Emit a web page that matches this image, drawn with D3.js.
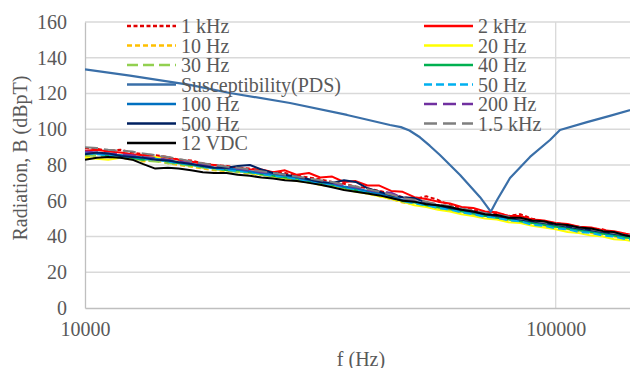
<!DOCTYPE html>
<html>
<head>
<meta charset="utf-8">
<script src="https://cdn.jsdelivr.net/npm/d3@7"></script>
<style>
  body { margin: 0; background: #fff; }
  svg { display: block; font-family: "Liberation Serif", "Times New Roman", serif; }
</style>
</head>
<body>
<div id="chart"></div>
<script>
// frequency grid shared by the measured curves (Hz)
const freqs = [10000, 10600, 11200, 11900, 12600, 13300, 14100, 15000, 15800, 16800, 17800, 18800,
  20000, 21100, 22400, 23700, 25100, 26600, 28200, 29900, 31600, 33500, 35500, 37600,
  39800, 42200, 44700, 47300, 50100, 53100, 56200, 59600, 63100, 66800, 70800, 75000,
  79400, 84100, 89100, 94400, 100000, 106000, 112000, 119000, 126000, 133000, 141000, 150000];

const s1k   = [89.5, 89, 88, 88.5, 87, 86, 85.5, 84.5, 83, 82.5, 81, 80, 79.5, 78.5, 78, 77, 76, 75.5, 74, 73, 72, 70.5, 69.5, 68, 67, 65.5, 64, 62, 61, 62.5, 60.5, 57.5, 56, 55, 53.5, 53, 51.5, 52.5, 50, 48.5, 47.5, 46.5, 45.5, 44.5, 44, 42, 41, 40];
const s2k   = [88, 88.5, 87.5, 87, 86, 85.5, 84.5, 84, 83, 82, 80.5, 80, 79, 78.5, 77.5, 77.5, 76, 77, 74.5, 75.5, 73, 73.5, 70.5, 71, 68.5, 68.5, 65.5, 65, 62, 61, 59.5, 58.5, 56.5, 56, 54, 53.5, 51.5, 51.5, 49.5, 49, 47.5, 47, 45.5, 45, 43.5, 43, 41.5, 40.5];
const s10   = [85, 84, 84.5, 84, 83, 82, 82.5, 81, 80, 79, 78, 77, 76.5, 76, 75, 74.5, 73.5, 72.5, 71.5, 70, 69, 68, 66.5, 65.5, 64, 62.5, 61, 59, 58, 57, 55.5, 54.5, 53.5, 52, 51, 50, 49, 48, 47, 46, 45, 44, 43, 42, 41, 40, 39, 38];
const s20   = [84, 83.5, 83, 84, 83.5, 84, 84.5, 83, 81.5, 80, 79.5, 78, 77, 76.5, 75.5, 74.5, 73.5, 72.5, 71, 70.5, 69, 68, 66.5, 65, 64, 62.5, 61, 59.5, 57.5, 56.5, 55, 54, 52.5, 51.5, 50, 49.5, 48, 47.5, 46, 45, 44, 42.5, 42, 40.5, 40, 38.5, 38, 37];
const s30   = [85.5, 85, 84.5, 84, 83.5, 82.5, 82, 81, 80.5, 79.5, 78.5, 77.5, 77, 76, 75.5, 74.5, 73.5, 73, 71.5, 70.5, 69.5, 68.5, 67, 66, 64.5, 63, 61.5, 59.5, 58.5, 57.5, 56, 55, 54, 52.5, 51.5, 50.5, 49.5, 48.5, 47.5, 46.5, 45.5, 44.5, 43.5, 42.5, 41, 40.5, 39.5, 38.5];
const s40   = [86, 86.5, 85, 85.5, 84, 83, 83.5, 82, 81, 80, 79, 78.5, 77, 77, 76, 75, 74, 73, 72.5, 71, 70, 69, 67.5, 66, 65, 63.5, 62, 60, 59, 57.5, 56.5, 55.5, 54, 53, 51.5, 50.5, 49.5, 48.5, 47.5, 46.5, 45.5, 44.5, 43.5, 42.5, 41.5, 40.5, 39.5, 38.5];
const s50   = [86.5, 86, 85.5, 85, 84.5, 83.5, 83, 82, 81, 80.5, 79, 78, 77.5, 76.5, 76, 75, 74, 73.5, 72, 71, 70, 69, 67.5, 66.5, 65, 63.5, 62, 60, 58.5, 57.5, 56, 55, 53.5, 52.5, 51, 50.5, 49, 48.5, 46.5, 46, 44.5, 44, 42.5, 42, 40.5, 40, 38.5, 38];
const s100  = [87, 86.5, 86, 85.5, 85, 84, 83.5, 82.5, 81.5, 80.5, 79.5, 78.5, 78, 77.5, 76.5, 75.5, 75, 74, 73, 71.5, 70.5, 69.5, 68, 67, 65.5, 64, 62.5, 60.5, 59.5, 58.5, 57.5, 56, 55, 53.5, 52.5, 51.5, 50.5, 49.5, 48.5, 47.5, 46.5, 45.5, 44.5, 43.5, 42.5, 41.5, 40.5, 39.5];
const s200  = [87.5, 87, 86.5, 86, 85.5, 84.5, 84, 83, 82, 81, 80, 79, 78.5, 78, 77, 76, 75.5, 74.5, 73.5, 72, 71, 70, 68.5, 67.5, 66, 65, 64.5, 61.5, 60, 59, 58, 56.5, 55.5, 54, 53, 52, 51, 50, 49, 48, 47, 46, 45, 44, 43, 42, 41, 40];
const s500  = [86, 87, 86.5, 85, 84.5, 84, 83, 82.5, 81.5, 80.5, 79.5, 78.5, 78.5, 79.5, 80, 77.5, 75.5, 74.5, 73.5, 72, 70.5, 70, 71.5, 70.5, 67, 65, 63, 62, 61.5, 59, 57.5, 56, 55, 54, 52.5, 51.5, 50.5, 49.5, 48.5, 47.5, 46.5, 45.5, 44.5, 43.5, 42.5, 41.5, 40.5, 39.5];
const s1500 = [90, 89.5, 88.5, 88, 87.5, 86.5, 85.5, 84.5, 83.5, 82, 81, 80, 79, 78.5, 77.5, 76.5, 75.5, 74.5, 73.5, 72.5, 71.5, 70.5, 69, 68, 66.5, 65, 63.5, 61.5, 60.5, 59.5, 58, 57, 55.5, 54.5, 53, 52, 51, 50, 49, 48, 47, 46, 45, 44, 43, 42, 41, 40];
const sVdc  = [83, 84, 84.5, 84, 83, 80.5, 78, 78.5, 78, 77, 76, 75.5, 75.5, 74.5, 74, 73, 72.5, 71.5, 71, 70, 69, 67.5, 66, 65, 64, 63, 61.5, 60, 59.5, 58, 57.5, 56.5, 55, 54, 52.5, 52, 50.5, 50.5, 49, 48.5, 47, 46.5, 45, 44.5, 43, 42.5, 40.5, 39.5];

// susceptibility limit (PDS) has its own points
const pdsFreqs = [10000, 12460, 16700, 20320, 27260, 36030, 38390, 44460, 46900, 48900, 51470, 54000,
  56760, 62640, 69080, 72790, 75060, 79970, 88190, 97240, 102100, 116550, 130300, 150000];
const pdsVals  = [133.5, 130, 124.8, 120.3, 114.7, 108, 106.3, 102.4, 101.2, 99.3, 95.5, 90.8,
  85.6, 74.4, 62, 53.9, 60.4, 72.7, 84.5, 94, 99.6, 104, 107.5, 112];

const yTicks = [0, 20, 40, 60, 80, 100, 120, 140, 160];
const xTicks = [10000, 100000];

const series = [
  { name: '1 kHz', values: s1k, color: '#e00000', dash: '4,2.5' },
  { name: '2 kHz', values: s2k, color: '#ff0000', dash: null },
  { name: '10 Hz', values: s10, color: '#ffc000', dash: '5,3' },
  { name: '20 Hz', values: s20, color: '#ffff00', dash: null },
  { name: '30 Hz', values: s30, color: '#92d050', dash: '11,5' },
  { name: '40 Hz', values: s40, color: '#00b050', dash: null },
  { name: 'Susceptibility(PDS)', values: pdsVals, freqs: pdsFreqs, color: '#3a6fa8', dash: null },
  { name: '50 Hz', values: s50, color: '#00b0f0', dash: '8,4' },
  { name: '100 Hz', values: s100, color: '#0070c0', dash: null },
  { name: '200 Hz', values: s200, color: '#7030a0', dash: '13,6' },
  { name: '500 Hz', values: s500, color: '#002060', dash: null },
  { name: '1.5 kHz', values: s1500, color: '#7f7f7f', dash: '13,6' },
  { name: '12 VDC', values: sVdc, color: '#000000', dash: null }
];

const width = 630, height = 368;
const margin = { top: 22, left: 85, bottom: 60 };
const plotBottom = height - margin.bottom;

const svg = d3.select('#chart').append('svg')
  .attr('width', width)
  .attr('height', height);

const x = d3.scaleLog()
  .domain([10000, 150000])
  .range([margin.left, margin.left + 470.7 * Math.log10(15)]);

const y = d3.scaleLinear()
  .domain([0, 160])
  .range([plotBottom, margin.top]);

// gridlines
svg.append('g')
  .selectAll('line')
  .data(yTicks.filter(d => d > 0))
  .enter().append('line')
  .attr('x1', margin.left).attr('x2', width)
  .attr('y1', d => y(d)).attr('y2', d => y(d))
  .attr('stroke', '#d9d9d9').attr('stroke-width', 1.3);

svg.append('g')
  .selectAll('line')
  .data(xTicks.slice(1))
  .enter().append('line')
  .attr('x1', d => x(d)).attr('x2', d => x(d))
  .attr('y1', margin.top).attr('y2', plotBottom)
  .attr('stroke', '#d9d9d9').attr('stroke-width', 1.3);

// axes
const yAxis = svg.append('g')
  .attr('transform', `translate(${margin.left},0)`)
  .call(d3.axisLeft(y).tickValues(yTicks).tickSize(0).tickPadding(18));
const xAxis = svg.append('g')
  .attr('transform', `translate(0,${plotBottom})`)
  .call(d3.axisBottom(x).tickValues(xTicks).tickFormat(d3.format('d')).tickSize(0).tickPadding(14));

[yAxis, xAxis].forEach(ax => {
  ax.select('.domain').attr('stroke', '#bfbfbf').attr('stroke-width', 1.3);
  ax.selectAll('text')
    .style('font-family', '"Liberation Serif", "Times New Roman", serif')
    .style('font-size', '20px')
    .attr('fill', '#595959');
});

// lines
svg.append('clipPath').attr('id', 'plot-clip')
  .append('rect')
  .attr('x', margin.left).attr('y', margin.top)
  .attr('width', width - margin.left).attr('height', plotBottom - margin.top);

const line = d3.line()
  .x(d => x(d[0]))
  .y(d => y(d[1]));

svg.append('g')
  .attr('clip-path', 'url(#plot-clip)')
  .selectAll('path')
  .data(series)
  .enter().append('path')
  .attr('d', s => line((s.freqs || freqs).map((f, i) => [f, s.values[i]])))
  .attr('fill', 'none')
  .attr('stroke', s => s.color)
  .attr('stroke-width', s => s.freqs ? 2.2 : 2)
  .attr('stroke-linejoin', 'round')
  .attr('stroke-dasharray', s => s.dash);

// legend, two columns laid out row by row
const legend = svg.append('g');
const legendItem = legend.selectAll('.legend-item')
  .data(series)
  .enter().append('g')
  .attr('class', 'legend-item')
  .attr('transform', (d, i) => `translate(${i % 2 === 0 ? 127 : 424}, ${26 + Math.floor(i / 2) * 19.5})`);

legendItem.append('line')
  .attr('x1', 0).attr('x2', 49)
  .attr('stroke', d => d.color)
  .attr('stroke-width', 2.5)
  .attr('stroke-dasharray', d => d.dash);

legendItem.append('text')
  .attr('x', 54)
  .attr('dy', '0.35em')
  .style('font-size', '20px')
  .attr('fill', '#595959')
  .text(d => d.name);

// axis titles
svg.append('text')
  .attr('x', 361).attr('y', 366)
  .attr('text-anchor', 'middle')
  .style('font-size', '20px')
  .attr('fill', '#595959')
  .text('f (Hz)');

svg.append('text')
  .attr('transform', 'translate(27,158) rotate(-90)')
  .attr('text-anchor', 'middle')
  .style('font-size', '20px')
  .attr('fill', '#595959')
  .text('Radiation, B (dBpT)');
</script>
</body>
</html>
